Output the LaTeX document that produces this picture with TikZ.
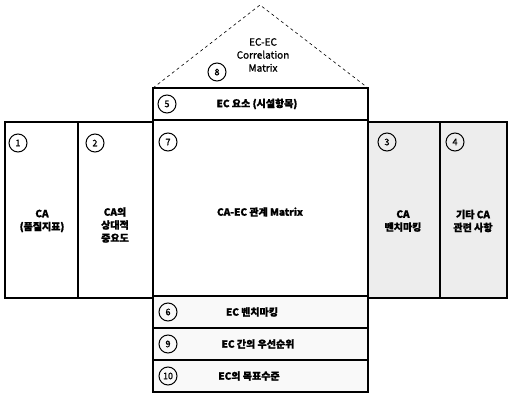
\documentclass[tikz,border=0pt]{standalone}
\usepackage{fontspec}
\newfontfamily\kr[FakeBold=1.2]{Noto Sans CJK KR}
\begin{document}
\begin{tikzpicture}[x=1pt,y=-1pt,
  box/.style={draw=black,line width=1.5pt,inner sep=0pt,minimum width=#1},
  shaded/.style={fill=gray!14},
  light/.style={fill=gray!5},
  num/.style={draw=black,circle,line width=1pt,minimum size=18pt,inner sep=0pt,font=\kr\fontsize{9}{9}\selectfont},
  lbl/.style={font=\kr\fontsize{10}{13}\selectfont,align=center,inner sep=0pt},
  klbl/.style={font=\kr\bfseries\fontsize{10}{13}\selectfont,align=center,inner sep=0pt}]
\useasboundingbox (0,0) rectangle (508,395);
% roof
\coordinate (apex) at (260,5);
\coordinate (rl) at (153,88);
\coordinate (rr) at (368,88);
\draw[dashed,line width=0.6pt] (rl) -- (apex) -- (rr);
% boxes
\node[box=73pt,minimum height=176pt] (b1) at (41.5,210) {};
\node[box=75pt,minimum height=176pt] (b2) at (115.5,210) {};
\node[box=72pt,minimum height=176pt,shaded] (b3) at (404,210) {};
\node[box=67pt,minimum height=176pt,shaded] (b4) at (473.5,210) {};
\node[box=215pt,minimum height=32pt] (b5) at (260.5,104) {};
\node[box=215pt,minimum height=176pt] (b7) at (260.5,208) {};
\node[box=215pt,minimum height=32pt,light] (b6) at (260.5,312) {};
\node[box=215pt,minimum height=32pt,light] (b9) at (260.5,344) {};
\node[box=215pt,minimum height=32pt,light] (b10) at (260.5,376) {};
% numbers
\node[num] (n1) at (18,143) {1};
\node[num] (n2) at (95,143) {2};
\node[num] (n3) at (387,142) {3};
\node[num] (n4) at (455,142) {4};
\node[num] (n5) at (167,104) {5};
\node[num] (n6) at (168,312) {6};
\node[num] (n7) at (168,142) {7};
\node[num] (n8) at (217,72) {8};
\node[num] (n9) at (168,344) {9};
\node[num] (n10) at (168,376) {10};
% labels
\node[lbl] (t8) at (263,55) {EC-EC\\Correlation\\Matrix};
\node[klbl] (t5) at (257,104) {EC 요소 (시설항목)};
\node[klbl] (t1) at (42,221) {CA\\(품질지표)};
\node[klbl] (t2) at (115,225) {CA의\\상대적\\중요도};
\node[klbl] (t7) at (260,212) {CA-EC 관계 Matrix};
\node[klbl] (t3) at (403,221) {CA\\벤치마킹};
\node[klbl] (t4) at (473,221) {기타 CA\\관련 사항};
\node[klbl] (t6) at (252,312) {EC 벤치마킹};
\node[klbl] (t9) at (258,344) {EC 간의 우선순위};
\node[klbl] (t10) at (249,376) {EC의 목표수준};
\end{tikzpicture}
\end{document}
